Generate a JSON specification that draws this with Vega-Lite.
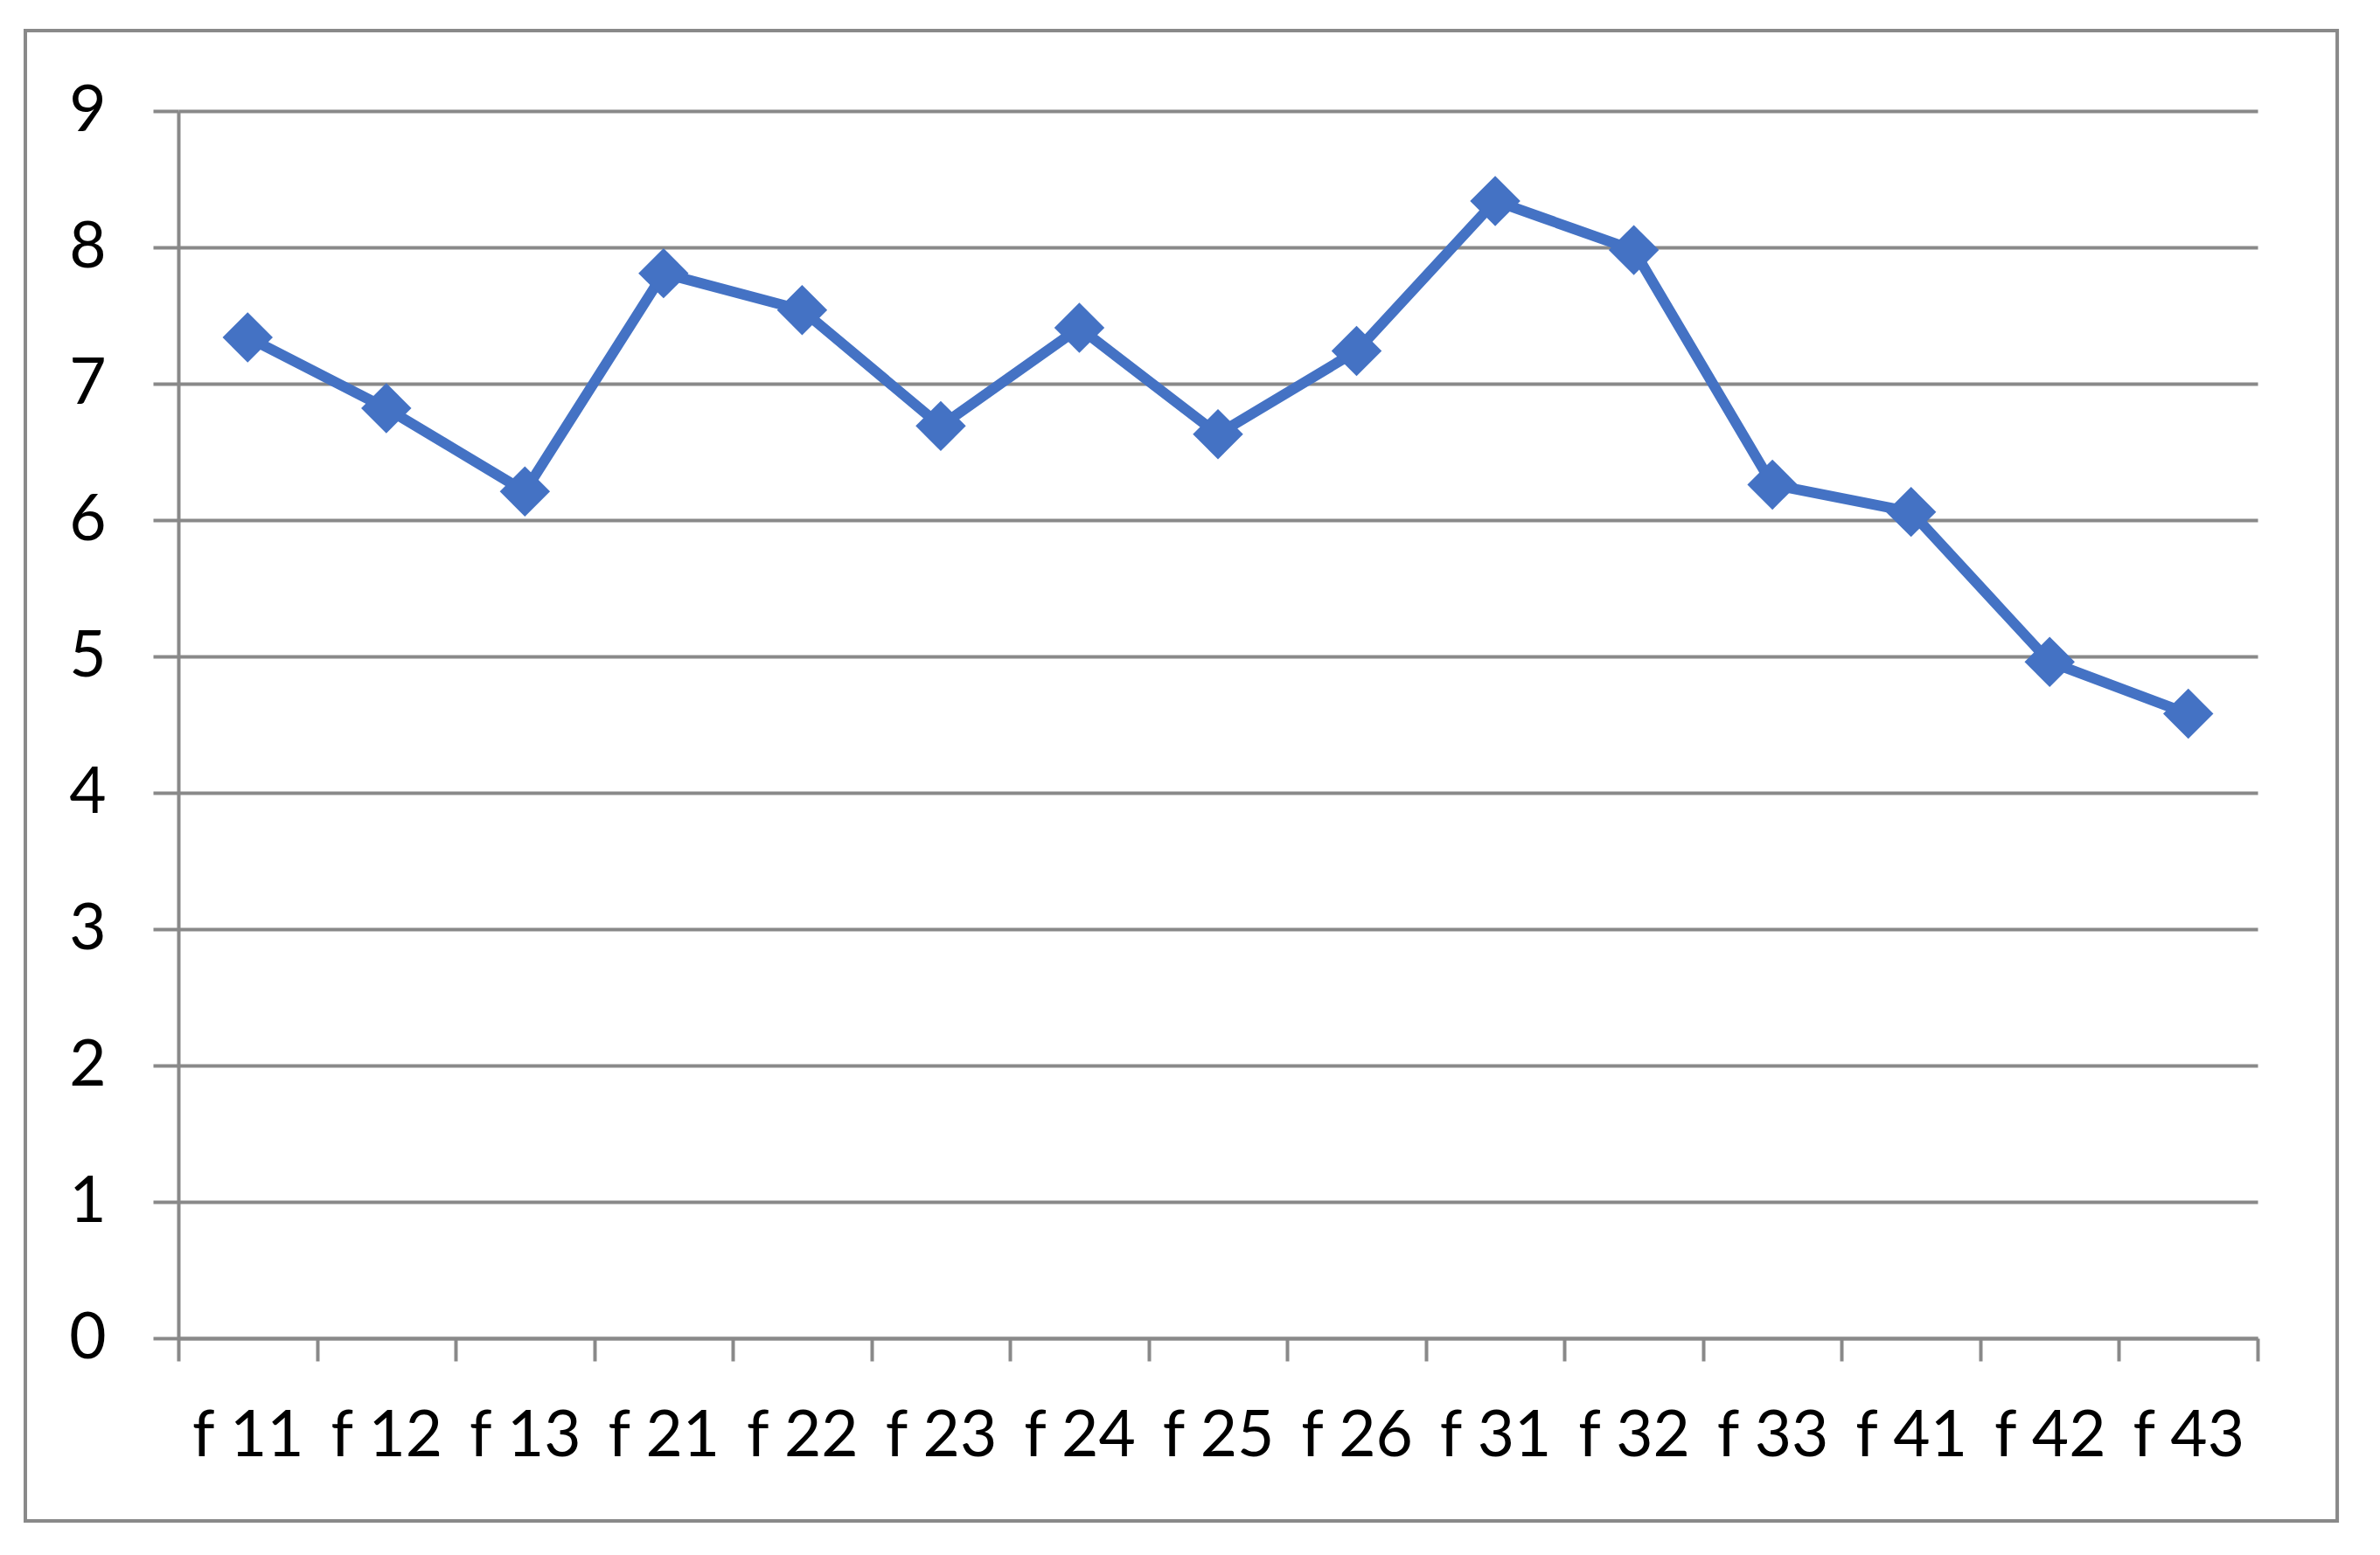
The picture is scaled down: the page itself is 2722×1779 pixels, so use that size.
{
  "$schema": "https://vega.github.io/schema/vega-lite/v6.json",
  "width": 2378,
  "height": 1404,
  "autosize": {"type": "none"},
  "padding": {"left": 204, "top": 127, "right": 140, "bottom": 248},
  "background": "#ffffff",
  "config": {
    "view": {"stroke": null},
    "font": "Lato",
    "axis": {
      "labelFont": "Lato",
      "labelFontSize": 73,
      "labelColor": "#000000",
      "domainColor": "#898989",
      "domainWidth": 4,
      "tickColor": "#898989",
      "tickWidth": 4,
      "gridColor": "#898989",
      "gridWidth": 4,
      "title": null
    }
  },
  "layer": [
    {
      "data": {"values": [{}]},
      "mark": {"type": "rect", "filled": false, "stroke": "#898989", "strokeWidth": 4, "clip": false},
      "encoding": {
        "x": {"datum": -0.0736, "type": "quantitative", "scale": {"domain": [0, 1], "nice": false, "zero": false}, "axis": null},
        "x2": {"datum": 1.0383},
        "y": {"datum": 9.59, "type": "quantitative"},
        "y2": {"datum": -1.34}
      }
    },
    {
      "data": {
        "values": [
          {"factor": "f 11", "score": 7.34},
          {"factor": "f 12", "score": 6.82},
          {"factor": "f 13", "score": 6.21},
          {"factor": "f 21", "score": 7.81},
          {"factor": "f 22", "score": 7.54},
          {"factor": "f 23", "score": 6.69},
          {"factor": "f 24", "score": 7.41},
          {"factor": "f 25", "score": 6.63},
          {"factor": "f 26", "score": 7.24},
          {"factor": "f 31", "score": 8.34},
          {"factor": "f 32", "score": 7.98},
          {"factor": "f 33", "score": 6.26},
          {"factor": "f 41", "score": 6.06},
          {"factor": "f 42", "score": 4.96},
          {"factor": "f 43", "score": 4.58}
        ]
      },
      "mark": {
        "type": "line",
        "color": "#4472C4",
        "strokeWidth": 12,
        "strokeJoin": "round",
        "point": {"filled": true, "shape": "diamond", "size": 3300, "color": "#4472C4"}
      },
      "encoding": {
        "x": {
          "field": "factor",
          "type": "nominal",
          "sort": null,
          "bandPosition": 0.5,
          "scale": {"type": "band", "paddingInner": 0, "paddingOuter": 0},
          "axis": {
            "labelAngle": 0,
            "grid": false,
            "tickBand": "extent",
            "tickSize": 26,
            "labelPadding": 108,
            "labelBaseline": "alphabetic"
          }
        },
        "y": {
          "field": "score",
          "type": "quantitative",
          "scale": {"domain": [0, 9], "nice": false, "zero": true},
          "axis": {
            "values": [0, 1, 2, 3, 4, 5, 6, 7, 8, 9],
            "format": "d",
            "tickSize": 29,
            "labelPadding": 54,
            "grid": true
          }
        }
      }
    }
  ],
  "resolve": {"scale": {"x": "independent"}}
}
